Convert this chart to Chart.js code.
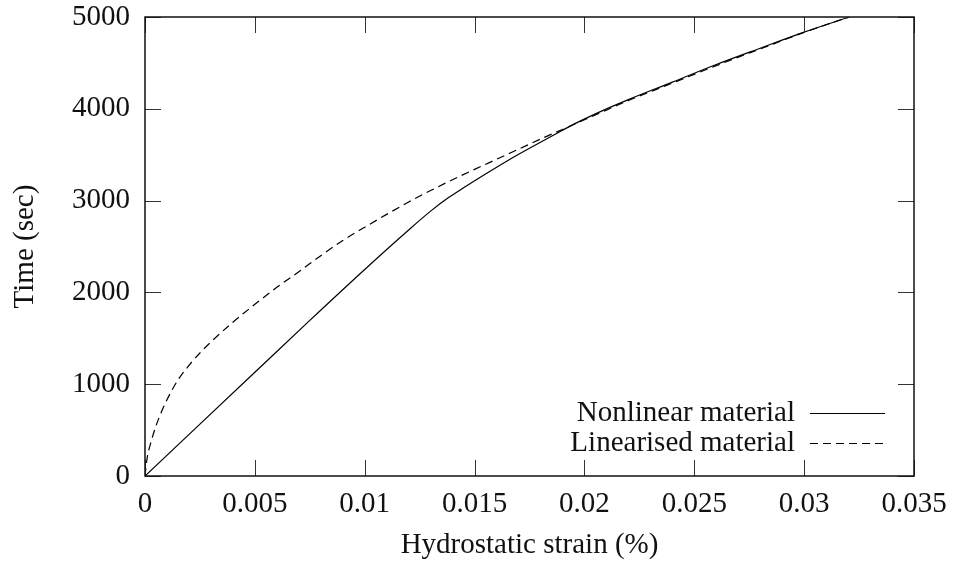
<!DOCTYPE html>
<html>
<head>
<meta charset="utf-8">
<title>Hydrostatic strain</title>
<script src="https://cdn.jsdelivr.net/npm/chart.js@4.4.1/dist/chart.umd.min.js"></script>
<style>
  html, body { margin: 0; padding: 0; background: #fff; }
  canvas { display: block; }
</style>
</head>
<body>
<canvas id="strainChart" width="955" height="567"></canvas>
<script>
// Nonlinear material: strain (%) vs time (sec)
const strainNonlinear = [0, 0.0025, 0.005, 0.0075, 0.01, 0.012, 0.013, 0.0138, 0.0145, 0.0155, 0.0165, 0.0175, 0.0185, 0.0195, 0.0205, 0.022, 0.024, 0.026, 0.028, 0.03, 0.03205];
const timeNonlinear   = [0, 565, 1130, 1695, 2250, 2680, 2885, 3030, 3140, 3290, 3435, 3570, 3700, 3830, 3945, 4100, 4290, 4482, 4660, 4835, 5000];

// Linearised material
const strainLinearised = [0, 0.0001, 0.00025, 0.0005, 0.00075, 0.001, 0.00125, 0.0015, 0.002, 0.0025, 0.003, 0.004, 0.005, 0.006, 0.007, 0.008, 0.009, 0.01, 0.011, 0.012, 0.013, 0.014, 0.015, 0.016, 0.017, 0.018, 0.019, 0.02, 0.021, 0.022, 0.024, 0.026, 0.028, 0.03, 0.03205];
const timeLinearised   = [0, 200, 350, 545, 700, 830, 945, 1045, 1205, 1340, 1460, 1675, 1870, 2055, 2225, 2400, 2565, 2710, 2850, 2985, 3110, 3228, 3340, 3450, 3560, 3670, 3775, 3880, 3985, 4090, 4280, 4470, 4652, 4832, 5000];

const seriesLabels = ["Nonlinear material", "Linearised material"];
const xTickLabels = ["0", "0.005", "0.01", "0.015", "0.02", "0.025", "0.03", "0.035"];
const yTickLabels = ["0", "1000", "2000", "3000", "4000", "5000"];

const FONT = "'Liberation Serif', 'DejaVu Serif', serif";
const INK = "#111";

function toPoints(xs, ys) {
  return xs.map((x, i) => ({ x: x, y: ys[i] }));
}

// gnuplot-style frame: full border plus inward ticks on every side
const framePlugin = {
  id: "frame",
  afterDatasetsDraw(chart) {
    const { ctx, chartArea: a, scales } = chart;
    const len = 16;
    ctx.save();
    ctx.strokeStyle = "#333";
    ctx.lineWidth = 1;
    ctx.beginPath();
    scales.x.ticks.forEach(t => {
      const px = Math.round(scales.x.getPixelForValue(t.value)) + 0.5;
      ctx.moveTo(px, a.bottom); ctx.lineTo(px, a.bottom - len);
      ctx.moveTo(px, a.top); ctx.lineTo(px, a.top + len);
    });
    scales.y.ticks.forEach(t => {
      const py = Math.round(scales.y.getPixelForValue(t.value)) + 0.5;
      ctx.moveTo(a.left, py); ctx.lineTo(a.left + len, py);
      ctx.moveTo(a.right, py); ctx.lineTo(a.right - len, py);
    });
    ctx.stroke();
    ctx.strokeStyle = INK;
    ctx.lineWidth = 1.5;
    ctx.strokeRect(a.left, a.top, a.right - a.left, a.bottom - a.top);
    ctx.restore();
  }
};

// key in the lower right: label text first, then the line sample
const keyPlugin = {
  id: "key",
  afterDraw(chart) {
    const { ctx } = chart;
    const textRight = 795, lineLeft = 810, lineRight = 885;
    const rows = [413, 443];
    ctx.save();
    ctx.font = "29px " + FONT;
    ctx.fillStyle = INK;
    ctx.textAlign = "right";
    ctx.textBaseline = "middle";
    chart.data.datasets.forEach((ds, i) => {
      const y = rows[i];
      ctx.fillText(ds.label, textRight, y);
      ctx.strokeStyle = ds.borderColor;
      ctx.lineWidth = ds.borderWidth;
      ctx.setLineDash(ds.borderDash || []);
      ctx.beginPath();
      ctx.moveTo(lineLeft, y + 0.5);
      ctx.lineTo(lineRight, y + 0.5);
      ctx.stroke();
    });
    ctx.restore();
  }
};

new Chart(document.getElementById("strainChart"), {
  type: "line",
  data: {
    datasets: [
      {
        label: seriesLabels[0],
        data: toPoints(strainNonlinear, timeNonlinear),
        borderColor: "#000",
        borderWidth: 1.2,
        pointRadius: 0,
        cubicInterpolationMode: "monotone"
      },
      {
        label: seriesLabels[1],
        data: toPoints(strainLinearised, timeLinearised),
        borderColor: "#000",
        borderWidth: 1.2,
        borderDash: [8, 5],
        pointRadius: 0,
        cubicInterpolationMode: "monotone"
      }
    ]
  },
  options: {
    responsive: false,
    devicePixelRatio: 1,
    animation: false,
    layout: { padding: { top: 17, right: 41, left: 0, bottom: 0 } },
    plugins: {
      legend: { display: false },
      tooltip: { enabled: false }
    },
    scales: {
      x: {
        type: "linear",
        min: 0,
        max: 0.035,
        afterFit(scale) {
          scale.height = 91;
          scale.paddingLeft = 0;
          scale.paddingRight = 0;
        },
        afterBuildTicks(scale) {
          scale.ticks = xTickLabels.map(l => ({ value: parseFloat(l) }));
        },
        grid: { display: false, drawTicks: false },
        border: { display: false },
        ticks: {
          padding: 11,
          maxRotation: 0,
          autoSkip: false,
          color: INK,
          font: { family: FONT, size: 29 },
          callback: (v, i) => xTickLabels[i]
        },
        title: {
          display: true,
          text: "Hydrostatic strain (%)",
          color: INK,
          font: { family: FONT, size: 29, lineHeight: 1.2 },
          padding: { top: 0, bottom: 4 }
        }
      },
      y: {
        type: "linear",
        min: 0,
        max: 5000,
        afterFit(scale) {
          scale.width = 145;
          scale.paddingTop = 0;
          scale.paddingBottom = 0;
        },
        afterBuildTicks(scale) {
          scale.ticks = yTickLabels.map(l => ({ value: Number(l) }));
        },
        grid: { display: false, drawTicks: false },
        border: { display: false },
        ticks: {
          padding: 15,
          autoSkip: false,
          color: INK,
          font: { family: FONT, size: 29 },
          callback: (v, i) => yTickLabels[i]
        },
        title: {
          display: true,
          text: "Time (sec)",
          color: INK,
          font: { family: FONT, size: 29, lineHeight: 1.2 },
          padding: { top: 8, bottom: 0 }
        }
      }
    }
  },
  plugins: [framePlugin, keyPlugin]
});
</script>
</body>
</html>
